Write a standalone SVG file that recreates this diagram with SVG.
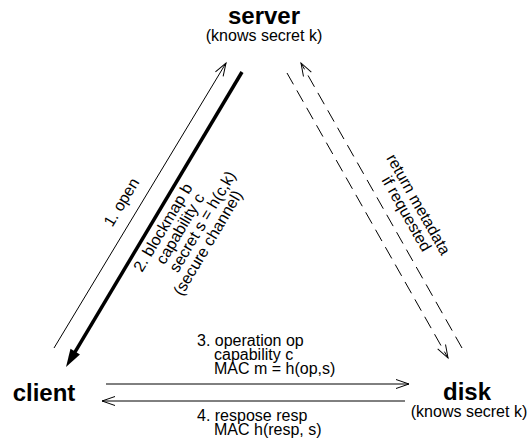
<svg xmlns="http://www.w3.org/2000/svg" width="531" height="442" viewBox="0 0 531 442">
  <style>
    text { font-family: "Liberation Sans", Arial, sans-serif; fill: #000; }
    .name { font-size: 24px; font-weight: bold; text-anchor: middle; }
    .note { font-size: 16px; text-anchor: middle; }
    .lbl { font-size: 16px; }
    .thin { stroke: #000; stroke-width: 1; fill: none; }
    .thick { stroke: #000; stroke-width: 3.5; fill: none; }
    .dash { stroke: #000; stroke-width: 1; fill: none; stroke-dasharray: 13 7; }
  </style>
  <defs>
    <marker id="open" viewBox="-15 -6 17 12" refX="0" refY="0" markerWidth="17" markerHeight="12" markerUnits="userSpaceOnUse" orient="auto">
      <path d="M-13,-4.5 L0,0 L-13,4.5" fill="none" stroke="#000" stroke-width="1"/>
    </marker>
    <marker id="solid" viewBox="-20 -7 22 14" refX="-16" refY="0" markerWidth="22" markerHeight="14" markerUnits="userSpaceOnUse" orient="auto">
      <path d="M-18,-5.5 L0,0 L-18,5.5 Z" fill="#000"/>
    </marker>
  </defs>

  <!-- nodes -->
  <g id="server">
    <text class="name" x="264" y="24">server</text>
    <text class="note" x="264" y="41">(knows secret k)</text>
  </g>
  <g id="client">
    <text class="name" x="44" y="401">client</text>
  </g>
  <g id="disk">
    <text class="name" x="467" y="400">disk</text>
    <text class="note" x="469" y="417">(knows secret k)</text>
  </g>

  <!-- connectors -->
  <g id="connectors">
    <!-- 1. open: client to server -->
    <line class="thin" x1="54" y1="348" x2="226" y2="63" marker-end="url(#open)"/>
    <!-- 2. capability reply: server to client, secure channel -->
    <line class="thick" x1="242" y1="72" x2="74.2" y2="353.3" marker-end="url(#solid)"/>
    <!-- metadata exchange between server and disk -->
    <line class="dash" x1="287" y1="73" x2="448" y2="358" marker-end="url(#open)"/>
    <line class="dash" x1="462" y1="348" x2="301" y2="63" marker-end="url(#open)"/>
    <!-- 3. operation request, 4. response -->
    <line class="thin" x1="106" y1="384" x2="409" y2="384" marker-end="url(#open)"/>
    <line class="thin" x1="405" y1="401" x2="102" y2="401" marker-end="url(#open)"/>
  </g>

  <!-- connector labels -->
  <g id="labels">
    <text class="lbl" text-anchor="middle" transform="translate(126,205) rotate(-58.7)">1. open</text>
    <text class="lbl" transform="translate(142,273) rotate(-59.2)">
      <tspan x="0" y="0">2. blockmap b</tspan>
      <tspan x="18" y="15.5">capability c</tspan>
      <tspan x="18" y="31">secret s = h(c,k)</tspan>
      <tspan x="0" y="46.5">(secure channel)</tspan>
    </text>
    <text class="lbl" text-anchor="middle" transform="translate(415,209) rotate(60.5)">
      <tspan x="0" y="0">return metadata</tspan>
      <tspan x="0" y="15">if requested</tspan>
    </text>
    <text class="lbl">
      <tspan x="197" y="346">3. operation op</tspan>
      <tspan x="214" y="360">capability c</tspan>
      <tspan x="214" y="374">MAC m = h(op,s)</tspan>
    </text>
    <text class="lbl">
      <tspan x="197" y="421">4. respose resp</tspan>
      <tspan x="214" y="435">MAC h(resp, s)</tspan>
    </text>
  </g>
</svg>
